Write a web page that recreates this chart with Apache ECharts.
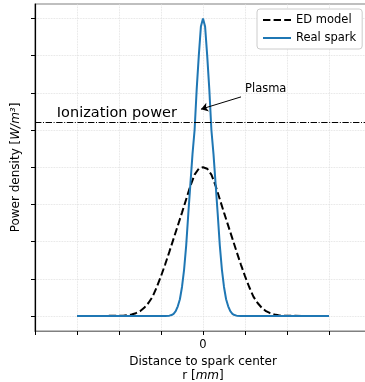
<!DOCTYPE html>
<html>
<head>
<meta charset="utf-8">
<script src="https://cdn.jsdelivr.net/npm/echarts@6/dist/echarts.min.js"></script>
<style>
html,body{margin:0;padding:0;background:#fff;}
#c{width:365px;height:382px;}
</style>
</head>
<body>
<div id="c"></div>
<script>
// ---- data ----
const sparkX = [-3, -0.9, -0.8, -0.75, -0.7, -0.65, -0.6, -0.55, -0.5, -0.45, -0.4, -0.35, -0.3, -0.25, -0.2, -0.15, -0.1, -0.05, 0,
                0.05, 0.1, 0.15, 0.2, 0.25, 0.3, 0.35, 0.4, 0.45, 0.5, 0.55, 0.6, 0.65, 0.7, 0.75, 0.8, 0.9, 3];
const sparkY = [0, 0, 0.01, 0.025, 0.06, 0.13, 0.26, 0.45, 0.78, 1.25, 1.9, 2.75, 3.55, 4.35, 5.0, 6.1, 7.0, 7.78, 8.0,
                7.78, 7.0, 6.1, 5.0, 4.35, 3.55, 2.75, 1.9, 1.25, 0.78, 0.45, 0.26, 0.13, 0.06, 0.025, 0.01, 0, 0];

const edX = [-3, -2.0, -1.9, -1.8, -1.7, -1.6, -1.5, -1.4, -1.3, -1.2, -1.1, -1.0, -0.9, -0.8, -0.7, -0.6, -0.5, -0.4, -0.3, -0.2, -0.1, 0,
             0.1, 0.2, 0.3, 0.4, 0.5, 0.6, 0.7, 0.8, 0.9, 1.0, 1.1, 1.2, 1.3, 1.4, 1.5, 1.6, 1.7, 1.8, 1.9, 2.0, 3];
const edY = [0, 0.005, 0.01, 0.02, 0.04, 0.075, 0.13, 0.22, 0.35, 0.52, 0.78, 1.07, 1.39, 1.73, 2.08, 2.43, 2.78, 3.14, 3.5, 3.8, 3.96, 4.0,
             3.96, 3.8, 3.5, 3.14, 2.78, 2.43, 2.08, 1.73, 1.39, 1.07, 0.78, 0.52, 0.35, 0.22, 0.13, 0.075, 0.04, 0.02, 0.01, 0.005, 0];

const ionizationLevel = 5.2;
const yTicks = [0, 1, 2, 3, 4, 5, 6, 7, 8];
const xLabels = [0];
const seriesNames = ['ED model', 'Real spark'];
const ionText = 'Ionization power';
const ionTextPos = [-3.48, 5.44];
const plasmaText = 'Plasma';
const plasmaTextPos = [1.0, 6.1];
const arrowFrom = [0.905, 5.89];
const arrowTo = [-0.048, 5.56];

const zip = (xs, ys) => xs.map((x, i) => [x, ys[i]]);
const FONT = 'DejaVu Sans';

const chart = echarts.init(document.getElementById('c'), null, {renderer: 'canvas'});
chart.setOption({
  animation: false,
  backgroundColor: '#fff',
  textStyle: {fontFamily: FONT},
  grid: {left: 35, top: 4, right: -6, bottom: 51, containLabel: false, outerBoundsMode: 'none',
         show: true, borderColor: '#808080', borderWidth: 1.2, backgroundColor: 'transparent'},
  legend: {
    data: seriesNames,
    orient: 'vertical',
    left: 257, top: 9,
    padding: [5, 6, 5, 5],
    itemWidth: 28, itemHeight: 10, itemGap: 6,
    backgroundColor: '#fff',
    borderColor: '#cccccc', borderWidth: 1, borderRadius: 3,
    itemStyle: {opacity: 0},
    textStyle: {fontFamily: FONT, fontSize: 11.5, color: '#000'}
  },
  xAxis: {
    type: 'value', min: -4, max: 4, interval: 1,
    name: '{n|Distance to spark center}\n{n|r [}{i|mm}{n|]}',
    nameLocation: 'middle', nameGap: 22,
    nameTextStyle: {
      rich: {
        n: {fontFamily: FONT, fontSize: 12, color: '#000', lineHeight: 14},
        i: {fontFamily: FONT, fontSize: 12, fontStyle: 'italic', color: '#000', lineHeight: 14}
      }
    },
    axisLine: {show: true, onZero: false, lineStyle: {color: '#808080', width: 1.2}},
    axisTick: {show: true, length: 4, lineStyle: {color: '#000', width: 1}},
    axisLabel: {show: true, customValues: xLabels, margin: 8, fontFamily: FONT, fontSize: 11.5, color: '#000', formatter: v => String(v)},
    splitLine: {show: true, lineStyle: {color: '#dcdcdc', type: 'dotted', width: 0.8}}
  },
  yAxis: {
    type: 'value', min: -0.403, max: 8.387, splitNumber: 9,
    name: '{n|Power density [}{i|W/m³}{n|]}',
    nameLocation: 'middle', nameGap: 13, nameRotate: 90,
    nameTextStyle: {
      rich: {
        n: {fontFamily: FONT, fontSize: 12, color: '#000'},
        i: {fontFamily: FONT, fontSize: 12, fontStyle: 'italic', color: '#000'}
      }
    },
    axisLine: {show: true, onZero: false, lineStyle: {color: '#000', width: 1.2}},
    axisTick: {show: true, length: 4, customValues: yTicks, lineStyle: {color: '#000', width: 1}},
    axisLabel: {show: false},
    splitLine: {show: true, lineStyle: {color: '#dcdcdc', type: 'dotted', width: 0.8}}
  },
  series: [
    {
      name: seriesNames[0], type: 'line', data: zip(edX, edY),
      showSymbol: false, symbol: 'none',
      lineStyle: {color: '#000', width: 2, type: [7.4, 3.2]},
      itemStyle: {color: '#000'},
      z: 2,
      markLine: {
        silent: true, symbol: 'none', animation: false,
        label: {show: false},
        lineStyle: {color: '#000', width: 1, type: [6.4, 1.6, 1, 1.6]},
        data: [{yAxis: ionizationLevel}]
      },
      markPoint: {
        silent: true, symbol: 'circle', symbolSize: 0, animation: false,
        data: [{
          coord: ionTextPos, value: 0,
          label: {show: true, position: 'right', distance: 0, formatter: ionText, fontFamily: FONT, fontSize: 14.5, color: '#000'}
        }]
      }
    },
    {
      name: seriesNames[1], type: 'line', data: zip(sparkX, sparkY),
      showSymbol: false, symbol: 'none',
      lineStyle: {color: '#1f77b4', width: 2},
      itemStyle: {color: '#1f77b4'},
      z: 3,
      markLine: {
        silent: true, animation: false,
        symbol: ['none', 'arrow'], symbolSize: 7,
        label: {show: false},
        lineStyle: {color: '#000', width: 1, type: 'solid'},
        data: [[{coord: arrowFrom}, {coord: arrowTo}]]
      },
      markPoint: {
        silent: true, symbol: 'circle', symbolSize: 0, animation: false,
        data: [{
          coord: plasmaTextPos, value: 0,
          label: {show: true, position: 'right', distance: 0, formatter: plasmaText, fontFamily: FONT, fontSize: 11.5, color: '#000'}
        }]
      }
    }
  ]
});
</script>
</body>
</html>
